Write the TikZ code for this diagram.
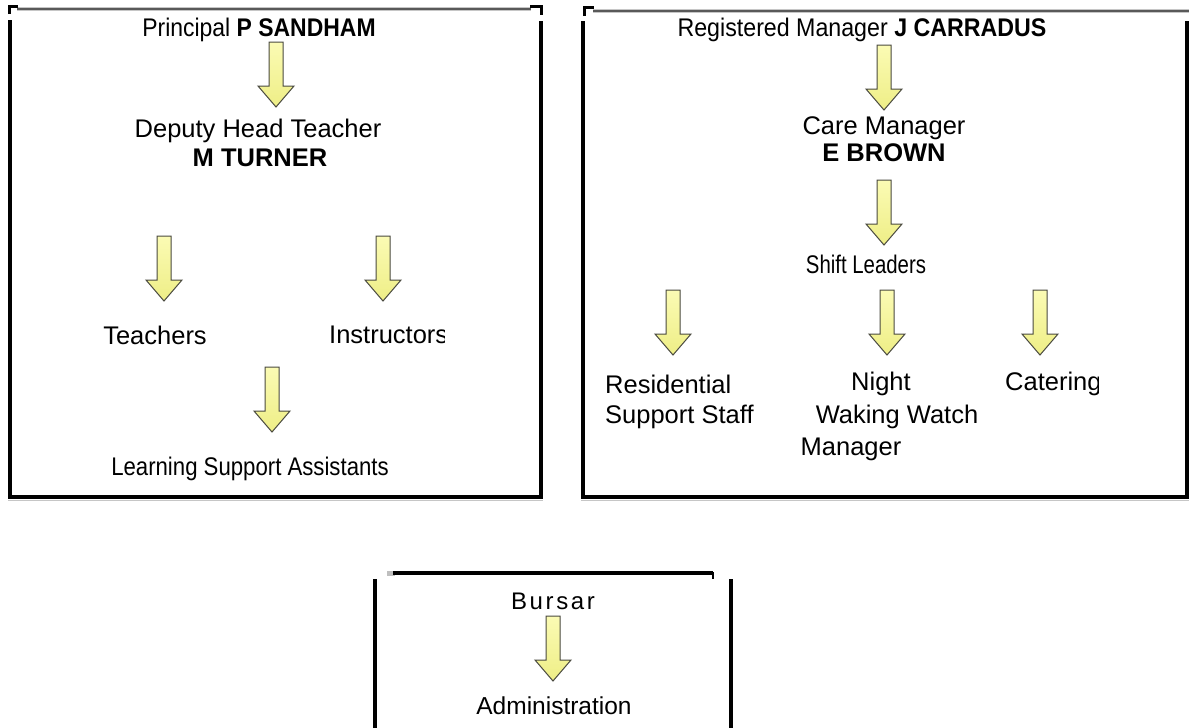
\documentclass[tikz,border=0pt]{standalone}
\usepackage{fontspec}
\setmainfont{Liberation Sans}
\usetikzlibrary{calc}
\definecolor{arrowtop}{HTML}{FBFBB4}
\definecolor{arrowbot}{HTML}{EEEE86}
\definecolor{arrowedge}{HTML}{4A4A40}

\begin{document}
\begin{tikzpicture}[x=1pt,y=-1pt,
  every node/.style={inner sep=0pt},
  txt/.style={font=\fontsize{25.5}{30}\selectfont},
  boldtxt/.style={font=\fontsize{25.5}{30}\selectfont\bfseries},
  side/.style={line width=3.5pt,black},
  topline/.style={line width=4pt,gray!45},
  topcore/.style={line width=1.5pt,black!65},
  bottomline/.style={line width=4pt,black},
  shadow/.style={line width=1.6pt,gray!45},
  tick/.style={line width=3pt,black},
  arrowbody/.style={draw=arrowedge,line width=1pt,top color=arrowtop,bottom color=arrowbot,line join=miter},
  blockarrow/.pic={
    \path[arrowbody] (-7,0) -- (7,0) -- (7,44) -- (18,44) -- (0,65) -- (-18,44) -- (-7,44) -- cycle;
  }
]
\useasboundingbox[fill=white] (0,0) rectangle (1189,728);

% ---------- school box ----------
\draw[topline] (17,9) -- (531,9);
\draw[topcore] (17,9) -- (531,9);
\draw[tick] (9.5,14) -- (9.5,6.5) -- (18,6.5);
\draw[tick] (530,6.5) -- (541.5,6.5) -- (541.5,15);
\draw[side] (10,20) -- (10,497);
\draw[side] (541,21) -- (541,497);
\draw[shadow] (8,500.5) -- (543,500.5);
\draw[bottomline] (8,497) -- (543,497);

\node[txt] (prin) at (259,30) {\scalebox{0.9}[1]{Principal \textbf{P SANDHAM}}};
\pic at (276,42) {blockarrow};
\node[txt] (dep) at (258,131) {Deputy Head Teacher};
\node[boldtxt] (mt) at (260,158) {M TURNER};
\pic at (164,236) {blockarrow};
\pic at (383,236) {blockarrow};
\node[txt] (teach) at (155,335) {Teachers};
\begin{scope}
  \clip (300,310) rectangle (444,360);
  \node[txt,anchor=west] (instr) at (329,335) {Instructors};
\end{scope}
\pic at (272,367) {blockarrow};
\node[txt] (lsa) at (250,469) {\scalebox{0.87}[1]{Learning Support Assistants}};

% ---------- care box ----------
\draw[tick] (584,16) -- (584,7) -- (594,7);
\draw[topline] (593,11) -- (1189,11);
\draw[topcore] (593,11) -- (1189,11);
\draw[side] (583,21) -- (583,497);
\draw[side] (1187,21) -- (1187,497);
\draw[shadow] (581,500.5) -- (1189,500.5);
\draw[bottomline] (581,497) -- (1189,497);

\node[txt] (reg) at (862,30) {\scalebox{0.91}[1]{Registered Manager \textbf{J CARRADUS}}};
\pic at (884,45) {blockarrow};
\node[txt] (care) at (884,128) {Care Manager};
\node[boldtxt] (eb) at (884,153) {E BROWN};
\pic at (884,180) {blockarrow};
\node[txt] (shift) at (866,264) {\scalebox{0.8}[1]{Shift Leaders}};
\pic at (673,290) {blockarrow};
\pic at (887,290) {blockarrow};
\pic at (1040,290) {blockarrow};
\node[txt,anchor=west] (res) at (605,384) {Residential};
\node[txt,anchor=west] (sup) at (605,417) {Support Staff};
\node[txt] (night) at (881,384) {Night};
\node[txt] (wake) at (897,417) {Waking Watch};
\node[txt] (mgr) at (851,449) {Manager};
\begin{scope}
  \clip (990,360) rectangle (1098,410);
  \node[txt,anchor=west] (cat) at (1005,384) {Catering};
\end{scope}

% ---------- office box ----------
\fill[gray!50] (387,571) rectangle (395,576);
\draw[line width=4pt] (393,573) -- (713,573);
\draw[line width=2pt] (713,572) -- (713,579);
\draw[side] (375,579) -- (375,728);
\draw[side] (731,579) -- (731,728);

\node[txt,font=\fontsize{24}{28}\selectfont\addfontfeatures{LetterSpace=11}] (bursar) at (553,601) {Bursar};
\pic at (553,616) {blockarrow};
\node[txt,font=\fontsize{24.5}{28}\selectfont] (admin) at (554,706) {Administration};
\end{tikzpicture}
\end{document}
